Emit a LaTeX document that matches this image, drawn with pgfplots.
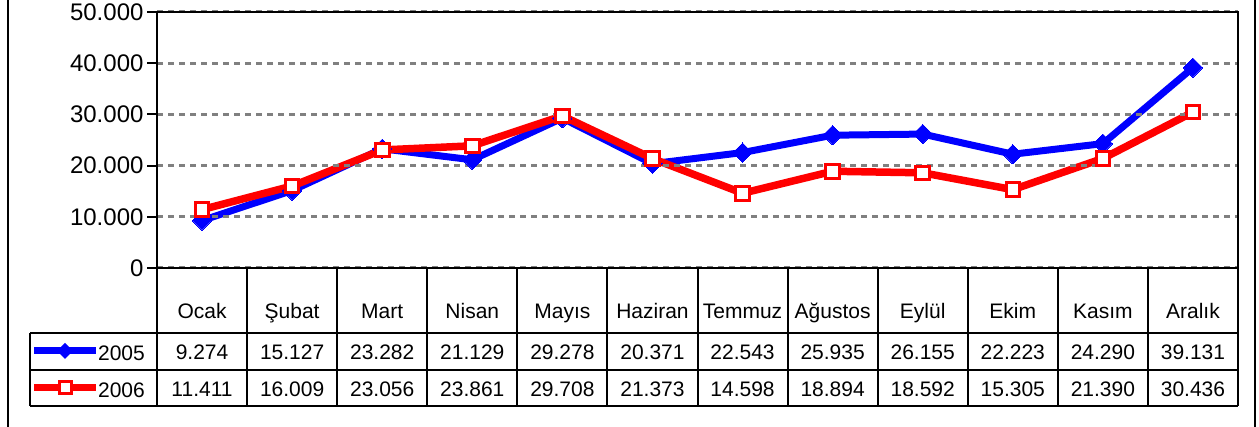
\documentclass[border=0pt]{standalone}
\usepackage{fontspec}
\setmainfont{Liberation Sans}
\usepackage{pgfplots}
\pgfplotsset{compat=1.18}
\definecolor{gridgray}{RGB}{128,128,128}
\begin{document}
\begin{tikzpicture}[x=1pt,y=1pt]
\useasboundingbox (0,0) rectangle (1259,427);
\begin{scope}
\clip (0,0) rectangle (1259,427);
\draw[line width=2pt] (8,-10) rectangle (1255,440);
\end{scope}
\begin{axis}[
  at={(157pt,159pt)}, anchor=south west,
  scale only axis, width=1081pt, height=256pt,
  xmin=-0.5, xmax=11.5, ymin=0, ymax=50000,
  axis line style={line width=2pt},
  axis on top,
  xtick={0,...,11},
  xticklabels={Ocak,Şubat,Mart,Nisan,Mayıs,Haziran,Temmuz,Ağustos,Eylül,Ekim,Kasım,Aralık},
  x tick style={draw=none},
  xticklabel style={anchor=base, yshift=-41pt, inner sep=0pt, font=\fontsize{21}{25}\selectfont},
  ytick={0,10000,...,50000},
  yticklabels={0,10.000,20.000,30.000,40.000,50.000},
  scaled y ticks=false,
  ytick pos=left,
  tick align=outside,
  major tick length=10pt,
  y tick style={line width=2pt, black},
  yticklabel style={font=\fontsize{24}{28}\selectfont},
  /pgf/number format/assume math mode=true,
  ymajorgrids,
  grid style={gridgray, line width=3pt, dash pattern=on 6pt off 5pt},
  clip=false,
]
\addplot[blue, line width=7pt, mark=square*, mark size=6.8pt,
  mark options={rotate=45, fill=blue, draw=blue, line width=0pt}]
  coordinates {(0,9274) (1,15127) (2,23282) (3,21129) (4,29278) (5,20371)
               (6,22543) (7,25935) (8,26155) (9,22223) (10,24290) (11,39131)};
\addplot[red, line width=7.5pt, mark=square*, mark size=6.8pt,
  mark options={fill=white, draw=red, line width=3pt}]
  coordinates {(0,11411) (1,16009) (2,23056) (3,23861) (4,29708) (5,21373)
               (6,14598) (7,18894) (8,18592) (9,15305) (10,21390) (11,30436)};
\end{axis}
% data table grid (pixel coords: Y = 427 - y_img)
\begin{scope}[line width=2pt]
  \draw (30,94) -- (1238,94);   % y_img 333
  \draw (30,57) -- (1238,57);   % y_img 370
  \draw (30,21) -- (1238,21);   % y_img 406
  \draw (30,94) -- (30,21);
  \draw (1238,159) -- (1238,21);
  \foreach \i in {0,...,12} {
    \draw ({157+90.083*\i},159) -- ({157+90.083*\i},21);
  }
\end{scope}
% legend keys
\draw[blue, line width=7pt] (34,76) -- (96,76);
\fill[blue] (65,84) -- (73,76) -- (65,68) -- (57,76) -- cycle;
\draw[red, line width=7.5pt] (34,39.5) -- (96,39.5);
\filldraw[draw=red, fill=white, line width=3pt] (59,33.5) rectangle (71,45.5);
\node[anchor=base east, inner sep=0pt, font=\fontsize{21}{25}\selectfont] at (145,66) {2005};
\node[anchor=base east, inner sep=0pt, font=\fontsize{21}{25}\selectfont] at (145,29.5) {2006};
% table values
\foreach \v [count=\i from 0] in {9.274,15.127,23.282,21.129,29.278,20.371,22.543,25.935,26.155,22.223,24.290,39.131} {
  \node[anchor=base, inner sep=0pt, font=\fontsize{21}{25}\selectfont] at ({157+90.083*(\i+0.5)},67) {\v};
}
\foreach \v [count=\i from 0] in {11.411,16.009,23.056,23.861,29.708,21.373,14.598,18.894,18.592,15.305,21.390,30.436} {
  \node[anchor=base, inner sep=0pt, font=\fontsize{21}{25}\selectfont] at ({157+90.083*(\i+0.5)},30.5) {\v};
}
\end{tikzpicture}
\end{document}
